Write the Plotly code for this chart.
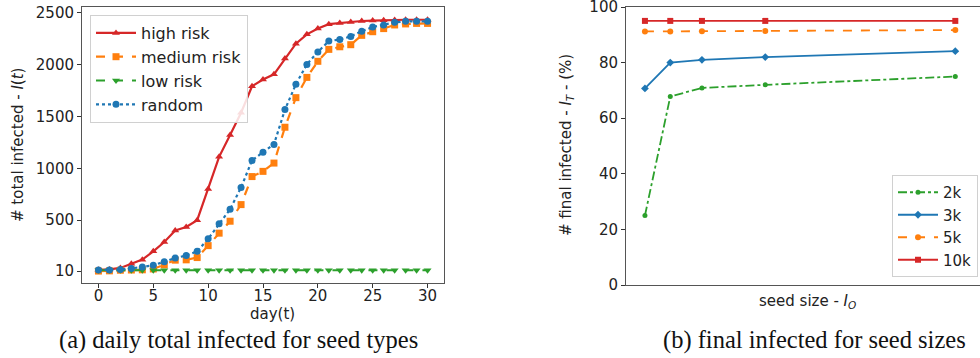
import plotly.graph_objects as go

# ---------------- data (left): daily total infected ----------------
days = list(range(31))
high_risk = [22, 26, 40, 80, 120, 200, 290, 400, 435, 500, 800, 1110, 1320, 1535, 1790, 1855, 1905,
             2057, 2200, 2290, 2346, 2388, 2400, 2408, 2418, 2422, 2426, 2428, 2430, 2430, 2430]
medium_risk = [10, 12, 18, 20, 22, 30, 70, 115, 118, 140, 255, 375, 490, 650, 920, 970, 1050,
               1395, 1680, 1875, 2030, 2145, 2170, 2190, 2280, 2315, 2345, 2380, 2390, 2395, 2395]
low_risk = [18] * 31
random_seed = [20, 20, 25, 35, 48, 65, 100, 135, 160, 200, 320, 465, 605, 815, 1075, 1155, 1230,
               1565, 1810, 2000, 2120, 2225, 2240, 2270, 2320, 2360, 2380, 2405, 2415, 2415, 2415]
left_yticks = [10, 500, 1000, 1500, 2000, 2500]
left_xticks = [0, 5, 10, 15, 20, 25, 30]

# ---------------- data (right): final infected vs seed size ----------------
seed_sizes = [10, 50, 100, 200, 500]
final_2k = [25.0, 67.8, 70.9, 72.0, 75.0]
final_3k = [70.7, 80.0, 81.0, 82.0, 84.1]
final_5k = [91.2, 91.2, 91.3, 91.4, 91.7]
final_10k = [95.0, 95.0, 95.0, 95.0, 95.0]
right_yticks = [0, 20, 40, 60, 80, 100]

RED, ORANGE, GREEN, BLUE = "#d62728", "#ff7f0e", "#2ca02c", "#1f77b4"
W, H = 980, 358
SANS = "DejaVu Sans"
SERIF = "Liberation Serif"

def px_x(p):
    return p / W

def px_y(p):
    return 1 - p / H

fig = go.Figure()

left_series = [
    ("high risk", high_risk, RED, "solid", "triangle-up"),
    ("medium risk", medium_risk, ORANGE, "dash", "square"),
    ("low risk", low_risk, GREEN, "dash", "triangle-down"),
    ("random", random_seed, BLUE, "dot", "circle"),
]
for name, vals, col, dash, sym in left_series:
    fig.add_trace(go.Scatter(
        x=days, y=vals, name=name, mode="lines+markers",
        line=dict(color=col, width=2.2, dash=dash),
        marker=dict(symbol=sym, size=7, color=col),
        xaxis="x", yaxis="y", legend="legend",
    ))

right_series = [
    ("2k", final_2k, GREEN, "dashdot", "circle", 5),
    ("3k", final_3k, BLUE, "solid", "diamond", 6),
    ("5k", final_5k, ORANGE, "dash", "circle", 6),
    ("10k", final_10k, RED, "solid", "square", 6),
]
for name, vals, col, dash, sym, ms in right_series:
    fig.add_trace(go.Scatter(
        x=seed_sizes, y=vals, name=name, mode="lines+markers",
        line=dict(color=col, width=1.8, dash=dash),
        marker=dict(symbol=sym, size=ms, color=col),
        xaxis="x2", yaxis="y2", legend="legend2",
    ))

axis_common = dict(showgrid=False, zeroline=False, ticklen=4, automargin=False,
                   tickcolor="#333", linecolor="#555", linewidth=1, showline=True,
                   ticklabeloverflow="allow",
                   tickfont=dict(family=SANS, size=15, color="#222"))

fig.update_layout(
    width=W, height=H, margin=dict(l=0, r=0, t=0, b=0, autoexpand=False),
    paper_bgcolor="white", plot_bgcolor="white",
    xaxis=dict(domain=[px_x(82), px_x(444)], range=[-1.5, 31.5], tickvals=left_xticks,
               mirror=True, anchor="y", ticks="outside", ticklabelstandoff=-5, **axis_common),
    yaxis=dict(domain=[px_y(283), px_y(7)], range=[-105, 2553], tickvals=left_yticks,
               mirror=True, anchor="x", ticks="outside", **axis_common),
    xaxis2=dict(domain=[px_x(626), 1.0], range=[-19.9, 539], showticklabels=False,
                mirror=True, anchor="y2", ticks="", **axis_common),
    yaxis2=dict(domain=[px_y(285), px_y(7)], range=[0, 100], tickvals=right_yticks,
                mirror=False, anchor="x2", ticks="outside", **axis_common),
    legend=dict(x=px_x(90), y=px_y(15), xanchor="left", yanchor="top",
                bgcolor="rgba(255,255,255,0.85)", bordercolor="#d0d0d0", borderwidth=1,
                font=dict(family=SANS, size=16, color="#222"), tracegroupgap=0,
                itemwidth=40),
    legend2=dict(x=px_x(892), y=px_y(175), xanchor="left", yanchor="top",
                 bgcolor="rgba(255,255,255,0.85)", bordercolor="#d0d0d0", borderwidth=1,
                 font=dict(family=SANS, size=15, color="#222"), tracegroupgap=0,
                 itemwidth=40),
    showlegend=True,
)

ann_font = dict(family=SANS, size=15, color="#222")
annotations = [
    dict(text="# total infected - <i>I</i>(<i>t</i>)", x=px_x(18), y=px_y(145), textangle=-90,
         font=ann_font),
    dict(text="day(t)", x=px_x(272), y=px_y(314), font=ann_font),
    dict(text="# final infected - <i>I</i><sub><i>T</i></sub> - (%)", x=px_x(566), y=px_y(145),
         textangle=-90, font=ann_font),
    dict(text="seed size - <i>I</i><sub><i>O</i></sub>", x=px_x(807), y=px_y(301), font=ann_font),
    dict(text="(a) daily total infected for seed types", x=px_x(238), y=px_y(340),
         font=dict(family=SERIF, size=24.5, color="#111")),
    dict(text="(b) final infected for seed sizes", x=px_x(814), y=px_y(340),
         font=dict(family=SERIF, size=24.5, color="#111")),
]
for a in annotations:
    a.update(xref="paper", yref="paper", showarrow=False, xanchor="center", yanchor="middle")
fig.update_layout(annotations=annotations)

fig.write_html("out.html", config={"displayModeBar": False},
               post_script="document.body.style.margin='0';")
